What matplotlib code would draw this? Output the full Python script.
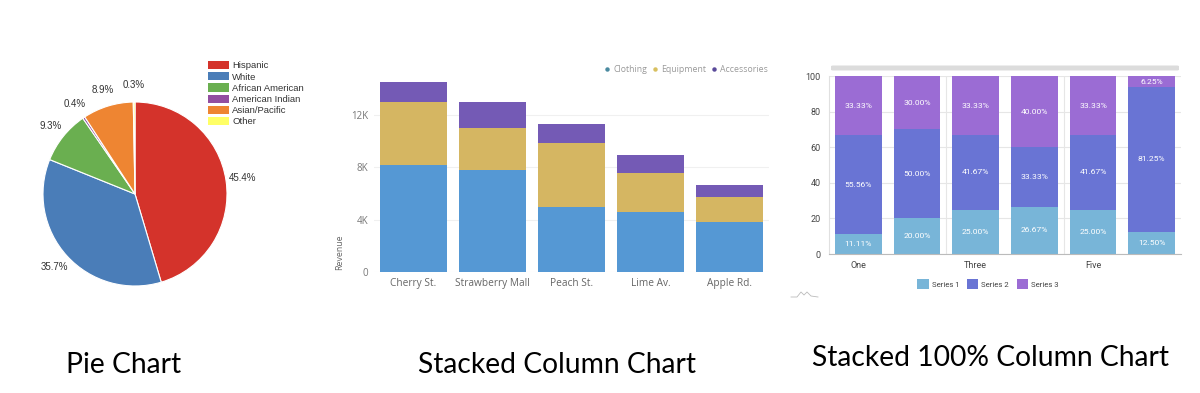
import matplotlib
matplotlib.use("Agg")
import matplotlib.pyplot as plt
from matplotlib.lines import Line2D
from matplotlib.patches import Patch, FancyBboxPatch
import numpy as np

# ---------------- data ----------------
pie_labels = ["Hispanic", "White", "African American", "American Indian", "Asian/Pacific", "Other"]
pie_values = [45.4, 35.7, 9.3, 0.4, 8.9, 0.3]
pie_colors = ["#d4332b", "#4a7db8", "#6aaf50", "#924ea0", "#ee8532", "#ffff66"]

stores = ["Cherry St.", "Strawberry Mall", "Peach St.", "Lime Av.", "Apple Rd."]
clothing = [8200, 7800, 4950, 4550, 3850]
equipment = [4800, 3200, 4900, 3000, 1900]
accessories = [1550, 2000, 1450, 1400, 900]
col_series = ["Clothing", "Equipment", "Accessories"]
col_colors = ["#5598d4", "#d5b662", "#745ab5"]
col_yticks = [0, 4000, 8000, 12000]
col_yticklabels = ["0", "4K", "8K", "12K"]

pct_categories = ["One", "Two", "Three", "Four", "Five", "Six"]
series1 = [11.11, 20.00, 25.00, 26.67, 25.00, 12.50]
series2 = [55.56, 50.00, 41.67, 33.33, 41.67, 81.25]
series3 = [33.33, 30.00, 33.33, 40.00, 33.33, 6.25]
pct_series = ["Series 1", "Series 2", "Series 3"]
pct_colors = ["#78b5d8", "#6974d4", "#9b6cd4"]
pct_xtick_labels = ["One", "Three", "Five"]

titles = ["Pie Chart", "Stacked Column Chart", "Stacked 100% Column Chart"]

W, H = 1200, 393
fig = plt.figure(figsize=(W / 100, H / 100), dpi=100)
fig.patch.set_facecolor("white")


def fx(px):
    return px / W


def fy(py):
    return 1 - py / H


def add_axes_px(left, top, right, bottom):
    return fig.add_axes([fx(left), fy(bottom), fx(right - left), (bottom - top) / H])


# ---------------- Pie chart ----------------
axp = add_axes_px(43, 102, 227, 286)
wedges, texts, autotexts = axp.pie(
    pie_values, colors=pie_colors, startangle=90, counterclock=False,
    autopct="%.1f%%", pctdistance=1.18,
    wedgeprops=dict(edgecolor="white", linewidth=0.8),
    textprops=dict(fontsize=7, color="#333333", family="Liberation Sans"),
)
axp.set_xlim(-1, 1)
axp.set_ylim(-1, 1)
axp.set_aspect("equal")
axp.axis("off")
for t in autotexts:
    t.set_clip_on(False)

handles = [Patch(facecolor=c, edgecolor="none") for c in pie_colors]
fig.legend(handles, pie_labels, loc="upper left", bbox_to_anchor=(fx(208), fy(61)),
           frameon=False, prop=dict(family="Liberation Sans", size=6.8),
           handlelength=2.2, handleheight=0.95, handletextpad=0.35,
           labelspacing=0.2, borderpad=0, borderaxespad=0, labelcolor="#333333")

# ---------------- Stacked column chart ----------------
axc = add_axes_px(374, 75.8, 769, 272)
xc = np.arange(len(stores))
bottoms = np.zeros(len(stores))
for vals, col in zip([clothing, equipment, accessories], col_colors):
    axc.bar(xc, vals, width=0.85, bottom=bottoms, color=col, zorder=2)
    bottoms = bottoms + np.array(vals)
axc.set_xlim(-0.5, len(stores) - 0.5)
axc.set_ylim(0, 15000)
axc.set_yticks(col_yticks)
axc.set_yticklabels(col_yticklabels)
axc.set_xticks(xc)
axc.set_xticklabels(stores)
axc.tick_params(axis="both", length=0, colors="#777777", labelsize=7)
axc.tick_params(axis="y", pad=4)
axc.tick_params(axis="x", pad=4, colors="#666666", labelsize=7.3)
for lab in axc.get_xticklabels() + axc.get_yticklabels():
    lab.set_family("Open Sans")
axc.yaxis.grid(True, color="#f0f0f0", linewidth=0.8, zorder=0)
for s in axc.spines.values():
    s.set_visible(False)
axc.set_ylabel("Revenue", fontsize=6.3, color="#666666", family="Open Sans", labelpad=12)
axc.yaxis.set_label_coords(-0.075, 0.1)

leg_handles = [Line2D([], [], linestyle="none", marker="o", markersize=3.2,
                      markerfacecolor=c, markeredgecolor="none") for c in ["#4a8aa0", "#d8c060", "#5a4a9a"]]
fig.legend(leg_handles, col_series, loc="center right", bbox_to_anchor=(fx(768), fy(70)),
           ncol=3, frameon=False, prop=dict(family="Open Sans", size=6.3),
           labelcolor="#9a9a9a", handlelength=0.6, handletextpad=0.4,
           columnspacing=0.6, borderpad=0, borderaxespad=0)

# ---------------- Stacked 100% column chart ----------------
axs = add_axes_px(829, 76, 1181, 254)
xs = np.arange(len(pct_categories))
bottoms = np.zeros(len(pct_categories))
for vals, col in zip([series1, series2, series3], pct_colors):
    bars = axs.bar(xs, vals, width=0.8, bottom=bottoms, color=col, zorder=2)
    axs.bar_label(bars, labels=["%.2f%%" % v for v in vals], label_type="center",
                  color="white", fontsize=6.1, family="Roboto")
    bottoms = bottoms + np.array(vals)
axs.set_xlim(-0.5, len(pct_categories) - 0.5)
axs.set_ylim(0, 100)
axs.set_yticks([0, 20, 40, 60, 80, 100])
axs.set_xticks([pct_categories.index(c) for c in pct_xtick_labels])
axs.set_xticklabels(pct_xtick_labels)
axs.tick_params(axis="both", length=0, colors="#444444", labelsize=6.5)
axs.tick_params(axis="y", pad=6)
axs.tick_params(axis="x", pad=5)
for lab in axs.get_xticklabels() + axs.get_yticklabels():
    lab.set_family("Roboto")
axs.yaxis.grid(True, color="#e6e6e6", linewidth=0.8, zorder=0)
for xv in [pct_categories.index(c) - 0.5 for c in pct_xtick_labels[1:]]:
    axs.axvline(xv, color="#e6e6e6", linewidth=0.8, zorder=0)
for k in ["top", "right"]:
    axs.spines[k].set_visible(False)
axs.spines["left"].set_color("#e0e0e0")
axs.spines["bottom"].set_color("#bbbbbb")
axs.spines["left"].set_linewidth(0.8)
axs.spines["bottom"].set_linewidth(0.8)

sq_handles = [Patch(facecolor=c, edgecolor="none") for c in pct_colors]
fig.legend(sq_handles, pct_series, loc="center", bbox_to_anchor=(fx(988), fy(284)),
           ncol=3, frameon=False, prop=dict(family="Roboto", size=5.6),
           labelcolor="#444444", handlelength=1.45, handleheight=1.45, handletextpad=0.4,
           columnspacing=1.0, borderpad=0, borderaxespad=0)

# scrollbar
fig.patches.append(FancyBboxPatch((fx(831), fy(70.5)), fx(1179) - fx(831), 5 / H,
                                  boxstyle="round,pad=0,rounding_size=0.002",
                                  transform=fig.transFigure, facecolor="#dcdcdc",
                                  edgecolor="none"))
# small logo glyph
fig.add_artist(Line2D([fx(791), fx(797), fx(801), fx(804), fx(807), fx(811), fx(818)],
                      [fy(297), fy(297), fy(292), fy(295), fy(292), fy(296), fy(297)],
                      color="#bbbbbb", linewidth=0.6, transform=fig.transFigure))

# ---------------- titles ----------------
fig.text(fx(66), fy(373), titles[0], fontsize=20.3, family="Lato", color="black",
         ha="left", va="baseline")
fig.text(fx(557), fy(373), titles[1], fontsize=20.3, family="Lato", color="black",
         ha="center", va="baseline")
fig.text(fx(991), fy(366), titles[2], fontsize=20.3, family="Lato", color="black",
         ha="center", va="baseline")

fig.savefig("out.png", dpi=100, facecolor="white")
